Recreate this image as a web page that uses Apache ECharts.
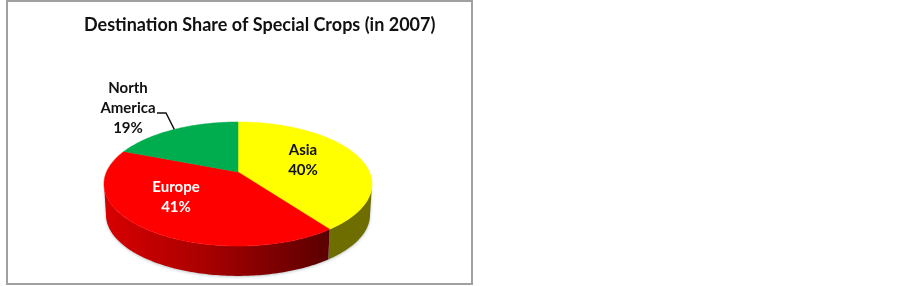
<!DOCTYPE html>
<html>
<head>
<meta charset="utf-8">
<style>html,body{margin:0;padding:0;background:#fff}#chart{width:902px;height:286px;filter:blur(0.45px)}</style>
<script src="https://cdn.jsdelivr.net/npm/echarts@6/dist/echarts.min.js"></script>
</head>
<body>
<div id="chart"></div>
<script>
const titleText = 'Destination Share of Special Crops (in 2007)';
const categories = ['Asia', 'Europe', 'North\nAmerica'];
const shares = [40, 41, 19];

const topColors = ['#ffff00', '#ff0000', '#00ad4e'];
const labelColors = ['#111111', '#ffffff', '#111111'];
const FONT = 'Lato, Carlito, sans-serif';

// pie projection: apex, radii, perspective strength, rim thickness
const apexX = 238, apexY = 172, radX = 131.5, radY = 59.7, persp = 0.1935, depth = 31, baseScale = 0.985;
const labelBoxes = [[303, 160], [176, 197], [128, 108]];

function rim(theta, lower) {
  const u = Math.sin(theta), v = -Math.cos(theta), w = 1 - persp * v;
  const s = lower ? baseScale : 1;
  return [apexX + s * radX * u / w, apexY + radY * v / w * s + (lower ? depth : 0)];
}
function arcPoints(a, b, lower) {
  const pts = [], n = Math.max(8, Math.ceil((b - a) * 60));
  for (let i = 0; i <= n; i++) pts.push(rim(a + (b - a) * i / n, lower));
  return pts;
}
// the rim is only seen between the two sideways extremes of the ellipse
const sideStart = Math.PI - Math.acos(persp);
const sideEnd = Math.PI + Math.acos(persp);
const total = shares.reduce((s, x) => s + x, 0);
function sideFill(i) {
  if (i === 1) return new echarts.graphic.LinearGradient(0, 0, 1, 0, [
    { offset: 0, color: '#d80000' }, { offset: 0.45, color: '#a80000' }, { offset: 1, color: '#5a0000' }]);
  return i === 0 ? '#6e6e00' : '#006030';
}

const option = {
  animation: false,
  backgroundColor: '#ffffff',
  title: {
    text: titleText, left: 79, top: 11,
    textStyle: { fontFamily: FONT, fontSize: 18, fontWeight: 'bold', color: '#111111' }
  },
  graphic: [{
    type: 'rect', z: 0,
    shape: { x: 7, y: 1, width: 465, height: 283 },
    style: { fill: '#ffffff', stroke: '#a0a0a0', lineWidth: 2 }
  }],
  series: [{
    type: 'custom',
    coordinateSystem: 'none',
    data: shares.map((v, i) => ({ value: v, name: categories[i] })),
    renderItem: function (params, api) {
      const i = params.dataIndex;
      let before = 0;
      for (let k = 0; k < i; k++) before += shares[k];
      const a = before / total * Math.PI * 2;
      const b = (before + api.value(0)) / total * Math.PI * 2;
      const topArc = arcPoints(a, b, false);
      const children = [
        { type: 'polygon', z2: 2, shape: { points: [[apexX, apexY]].concat(topArc) },
          style: { fill: topColors[i], stroke: topColors[i], lineWidth: 0.5 } },
        { type: 'text', z2: 4, x: labelBoxes[i][0], y: labelBoxes[i][1],
          style: { text: categories[i] + '\n' + api.value(0) + '%', fontFamily: FONT, fontSize: 15, fontWeight: 'bold',
                   lineHeight: 20, fill: labelColors[i], align: 'center', verticalAlign: 'middle' } }
      ];
      const sa = Math.max(a, sideStart), sb = Math.min(b, sideEnd);
      if (sb > sa) {
        children.push({ type: 'polygon', z2: 1,
          shape: { points: arcPoints(sa, sb, false).concat(arcPoints(sa, sb, true).reverse()) },
          style: { fill: sideFill(i), shadowColor: 'rgba(90,110,120,0.4)', shadowBlur: 3, shadowOffsetX: 0, shadowOffsetY: 1 } });
      }
      if (i === 2) {
        children.push({ type: 'polyline', z2: 3,
          shape: { points: [[157, 113], [166, 113], rim(a + (b - a) * 0.5, false)] },
          style: { fill: 'none', stroke: '#111111', lineWidth: 1.4 } });
      }
      return { type: 'group', children };
    }
  }]
};
const chart = echarts.init(document.getElementById('chart'), null, { renderer: 'canvas' });
chart.setOption(option);
</script>
</body>
</html>
